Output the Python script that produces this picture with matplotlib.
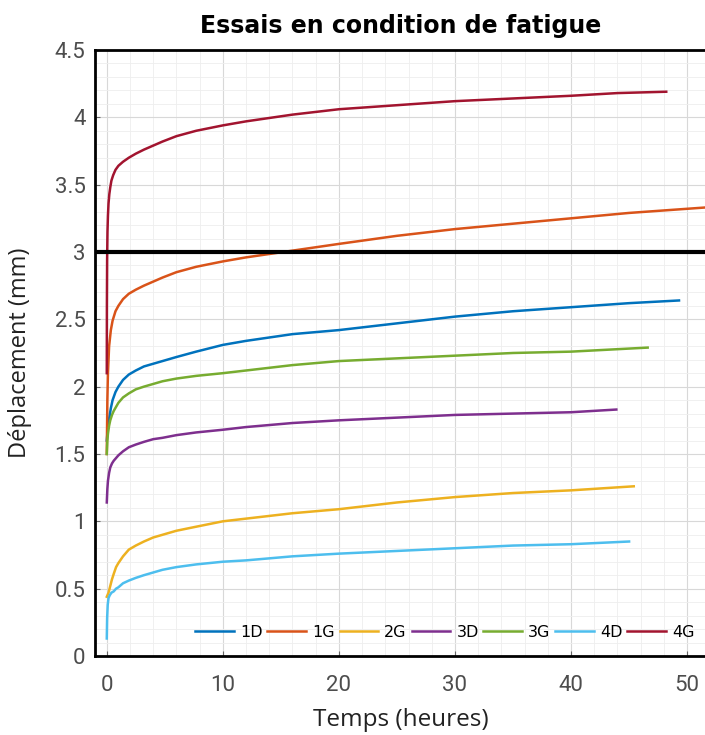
import matplotlib.pyplot as plt
from matplotlib.ticker import MultipleLocator, FuncFormatter

# temps (heures) et deplacement (mm)
t_1D = [0, 0.1, 0.2, 0.35, 0.5, 0.75, 1, 1.4, 1.9, 2.5, 3.2, 4, 4.8, 6, 7.7, 10, 12, 16, 20, 25, 30, 35, 40, 45, 49.3]
y_1D = [1.6, 1.7, 1.76, 1.84, 1.9, 1.96, 2.0, 2.05, 2.09, 2.12, 2.15, 2.17, 2.19, 2.22, 2.26, 2.31, 2.34, 2.39, 2.42, 2.47, 2.52, 2.56, 2.59, 2.62, 2.64]

t_1G = [0, 0.05, 0.1, 0.2, 0.35, 0.5, 0.75, 1, 1.4, 1.9, 2.5, 3.2, 4, 4.8, 6, 7.7, 10, 12, 16, 20, 25, 30, 35, 40, 45, 51.5]
y_1G = [1.5, 1.9, 2.1, 2.3, 2.42, 2.49, 2.56, 2.6, 2.65, 2.69, 2.72, 2.75, 2.78, 2.81, 2.85, 2.89, 2.93, 2.96, 3.01, 3.06, 3.12, 3.17, 3.21, 3.25, 3.29, 3.33]

t_2G = [0, 0.15, 0.3, 0.45, 0.6, 0.8, 1, 1.4, 1.9, 2.5, 3.2, 4, 4.8, 6, 7.7, 10, 12, 16, 20, 25, 30, 35, 40, 45.4]
y_2G = [0.44, 0.47, 0.52, 0.57, 0.61, 0.66, 0.69, 0.74, 0.79, 0.82, 0.85, 0.88, 0.9, 0.93, 0.96, 1.0, 1.02, 1.06, 1.09, 1.14, 1.18, 1.21, 1.23, 1.26]

t_3D = [0, 0.05, 0.1, 0.2, 0.3, 0.45, 0.6, 0.8, 1, 1.4, 1.9, 2.5, 3.2, 4, 4.8, 6, 7.7, 10, 12, 16, 20, 25, 30, 35, 40, 43.9]
y_3D = [1.14, 1.24, 1.3, 1.36, 1.4, 1.43, 1.45, 1.47, 1.49, 1.52, 1.55, 1.57, 1.59, 1.61, 1.62, 1.64, 1.66, 1.68, 1.7, 1.73, 1.75, 1.77, 1.79, 1.8, 1.81, 1.83]

t_3G = [0, 0.05, 0.1, 0.2, 0.3, 0.45, 0.6, 0.8, 1, 1.4, 1.9, 2.5, 3.2, 4, 4.8, 6, 7.7, 10, 12, 16, 20, 25, 30, 35, 40, 46.6]
y_3G = [1.5, 1.6, 1.65, 1.71, 1.75, 1.79, 1.82, 1.85, 1.88, 1.92, 1.95, 1.98, 2.0, 2.02, 2.04, 2.06, 2.08, 2.1, 2.12, 2.16, 2.19, 2.21, 2.23, 2.25, 2.26, 2.29]

t_4D = [0, 0.03, 0.08, 0.15, 0.25, 0.4, 0.6, 0.8, 1, 1.4, 1.9, 2.5, 3.2, 4, 4.8, 6, 7.7, 10, 12, 16, 20, 25, 30, 35, 40, 45]
y_4D = [0.13, 0.28, 0.38, 0.43, 0.45, 0.47, 0.48, 0.5, 0.51, 0.54, 0.56, 0.58, 0.6, 0.62, 0.64, 0.66, 0.68, 0.7, 0.71, 0.74, 0.76, 0.78, 0.8, 0.82, 0.83, 0.85]

t_4G = [0, 0.01, 0.03, 0.06, 0.1, 0.15, 0.22, 0.3, 0.4, 0.55, 0.75, 1, 1.4, 1.9, 2.5, 3.2, 4, 4.8, 6, 7.7, 10, 12, 16, 20, 25, 30, 35, 40, 44, 48.2]
y_4G = [2.1, 2.6, 2.95, 3.15, 3.27, 3.36, 3.43, 3.48, 3.53, 3.57, 3.61, 3.64, 3.67, 3.7, 3.73, 3.76, 3.79, 3.82, 3.86, 3.9, 3.94, 3.97, 4.02, 4.06, 4.09, 4.12, 4.14, 4.16, 4.18, 4.19]

series = [("1D", t_1D, y_1D, "#0072BD"),
          ("1G", t_1G, y_1G, "#D95319"),
          ("2G", t_2G, y_2G, "#EDB120"),
          ("3D", t_3D, y_3D, "#7E2F8E"),
          ("3G", t_3G, y_3G, "#77AC30"),
          ("4D", t_4D, y_4D, "#4DBEEE"),
          ("4G", t_4G, y_4G, "#A2142F")]

seuil = 3

fig = plt.figure(figsize=(7.05, 7.35), dpi=100)
ax = fig.add_axes([0.135, 0.1075, 0.866, 0.8245])

for nom, t, y, c in series:
    ax.plot(t, y, color=c, lw=1.8, label=nom, solid_joinstyle="round")

ax.axhline(seuil, color="black", lw=3)

ax.set_xlim(-1, 51.6)
ax.set_ylim(0, 4.5)
ax.xaxis.set_major_locator(MultipleLocator(10))
ax.yaxis.set_major_locator(MultipleLocator(0.5))
ax.xaxis.set_minor_locator(MultipleLocator(2))
ax.yaxis.set_minor_locator(MultipleLocator(0.1))
ax.yaxis.set_major_formatter(FuncFormatter(lambda v, p: f"{v:g}"))

ax.grid(which="major", color="#d8d8d8", lw=0.8)
ax.grid(which="minor", color="#eeeeee", lw=0.6)
ax.set_axisbelow(True)

ax.tick_params(which="both", direction="in", labelsize=16, labelcolor="#4d4d4d",
               color="#666666", top=False, right=False)
ax.tick_params(axis="x", pad=14)
ax.tick_params(axis="y", pad=7)
ax.tick_params(which="minor", length=0)
for lab in ax.get_xticklabels() + ax.get_yticklabels():
    lab.set_family(["Roboto", "DejaVu Sans"])

for s in ax.spines.values():
    s.set_linewidth(2)

ax.set_title("Essais en condition de fatigue", fontsize=17, fontweight="bold", pad=12)
ax.set_xlabel("Temps (heures)", fontsize=17.5, color="#222222", labelpad=8,
              family=["Open Sans", "DejaVu Sans"])
ax.set_ylabel("Déplacement (mm)", fontsize=17, color="#222222", labelpad=16,
              family=["Open Sans", "DejaVu Sans"])

ax.legend(loc="lower right", ncol=7, frameon=False, fontsize=11.5, handlelength=2.4,
          columnspacing=0.3, handletextpad=0.4, borderaxespad=0.6,
          bbox_to_anchor=(1.008, 0.0))

fig.savefig("out.png", dpi=100)
